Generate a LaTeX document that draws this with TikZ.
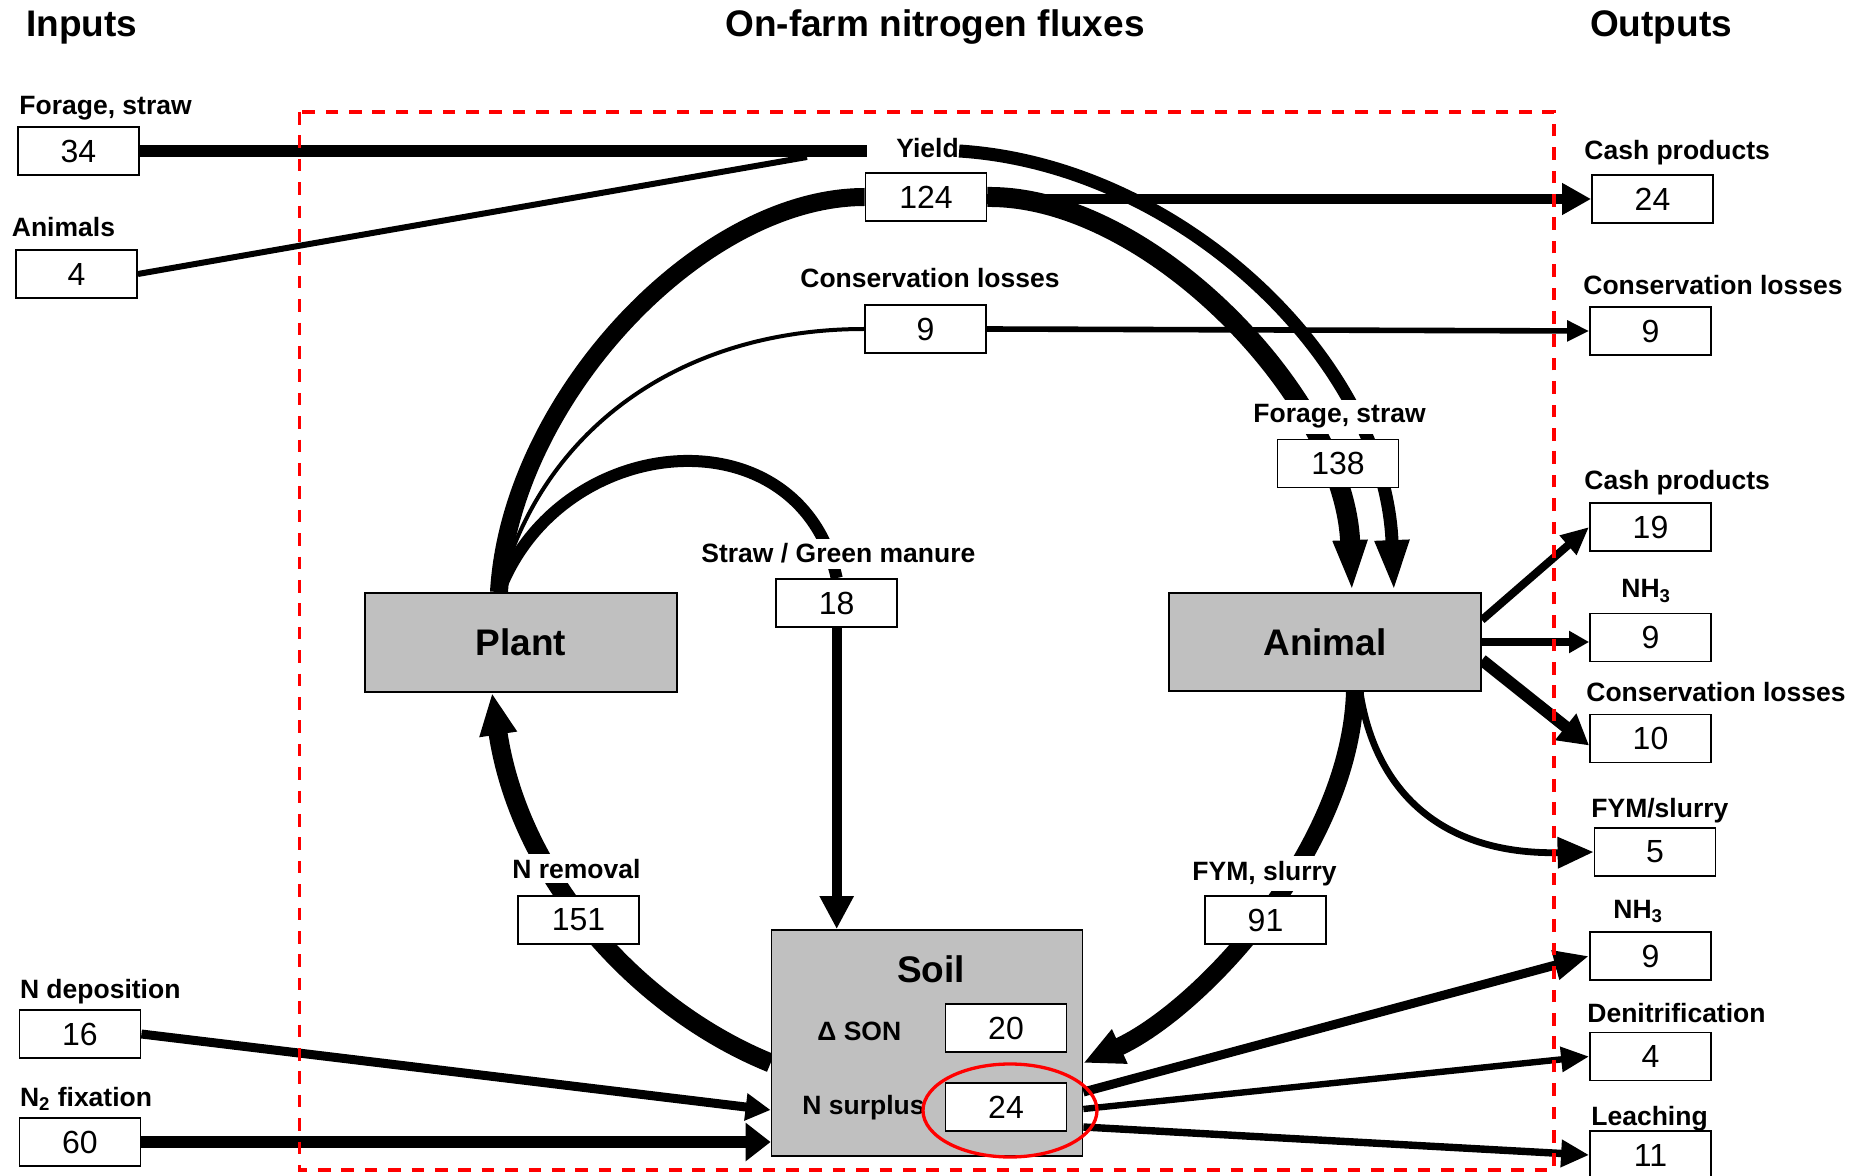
\documentclass[tikz,border=0pt]{standalone}
\usepackage{fontspec}
\setmainfont{Liberation Sans}
\usetikzlibrary{arrows.meta,backgrounds}
\definecolor{poolgray}{HTML}{C0C0C0}
\tikzset{
  numbox/.style={draw, line width=0.9pt, fill=white, minimum width=60.5pt,
    minimum height=24pt, inner sep=0pt, font=\fontsize{16}{18}\selectfont},
  pool/.style={draw, line width=0.9pt, fill=poolgray, inner sep=0pt,
    font=\fontsize{18.5}{20}\selectfont\bfseries},
  lbl/.style={inner sep=0pt, anchor=base west, font=\fontsize{13.25}{15}\selectfont\bfseries},
  cutlbl/.style={lbl, fill=white, inner ysep=2.5pt},
  ttl/.style={inner sep=0pt, anchor=base, font=\fontsize{18.5}{20}\selectfont\bfseries},
  arr/.style 2 args={-{Triangle[length=#1,width=#2]}},
}
\begin{document}
\begin{tikzpicture}[x=0.5pt, y=-0.5pt]
\useasboundingbox (0,0) rectangle (1849,1176);

% titles
\node[ttl, anchor=base west] (tin) at (26,37) {Inputs};
\node[ttl] (tfarm) at (935,37) {On-farm nitrogen fluxes};
\node[ttl] (tout) at (1661,37) {Outputs};

% pools
\node[pool, minimum width=156pt, minimum height=49.5pt] (plant) at (521,642.5) {Plant};
\node[pool, minimum width=156pt, minimum height=49pt] (animal) at (1325,642) {Animal};
\node[pool, minimum width=155.5pt, minimum height=113pt] (soil) at (927,1043) {};
\node[inner sep=0pt, anchor=base, font=\fontsize{18.5}{20}\selectfont\bfseries] (soiltxt) at (931,982) {Soil};
\node[lbl] (son) at (817,1040) {Δ SON};
\node[lbl] (surp) at (802,1114) {N surplus};
\node[numbox] (n20) at (1006,1028) {20};
\node[numbox] (n24) at (1006,1107) {24};

% inputs
\node[lbl] (lf34) at (19,115) {Forage, straw};
\node[numbox] (f34) at (78.5,151) {34};
\node[lbl] (lf4) at (11.5,237) {Animals};
\node[numbox] (f4) at (76.5,274) {4};
\node[lbl] (lf16) at (19.6,998) {N deposition};
\node[numbox] (f16) at (80,1034) {16};
\node[lbl] (lf60) at (19.6,1106) {N\textsubscript{2} fixation};
\node[numbox] (f60) at (80,1142) {60};

% on-farm fluxes
\node[lbl] (yield) at (896,158) {Yield};
\node[numbox] (n124) at (926,197) {124};
\node[lbl] (lcons) at (800,288) {Conservation losses};
\node[numbox] (n9c) at (925.5,329) {9};
\node[cutlbl] (lstraw) at (701,563) {Straw / Green manure};
\node[numbox] (n18) at (836.7,603) {18};
\node[cutlbl] (lforage) at (1253,423) {Forage, straw};
\node[numbox] (n138) at (1338,463.5) {138};
\node[cutlbl] (lrem) at (512,878) {N removal};
\node[numbox] (n151) at (578.5,920) {151};
\node[cutlbl] (lfym) at (1192,880) {FYM, slurry};
\node[numbox] (n91) at (1265.5,920) {91};

% outputs
\node[lbl] at (1584,160) {Cash products};
\node[numbox] (o24) at (1652.5,199) {24};
\node[lbl] at (1583,295) {Conservation losses};
\node[numbox] (o9c) at (1650.5,331) {9};
\node[lbl] at (1584,490) {Cash products};
\node[numbox] (o19) at (1650.5,527) {19};
\node[lbl] at (1621,598) {NH\textsubscript{3}};
\node[numbox] (o9a) at (1650.5,637.5) {9};
\node[lbl] at (1586,702) {Conservation losses};
\node[numbox] (o10) at (1650.5,738.5) {10};
\node[lbl] at (1591,817) {FYM/slurry};
\node[numbox] (o5) at (1655,852) {5};
\node[lbl] at (1613,918) {NH\textsubscript{3}};
\node[numbox] (o9b) at (1650.5,956) {9};
\node[lbl] at (1587,1022) {Denitrification};
\node[numbox] (o4) at (1650.5,1056.5) {4};
\node[lbl] at (1591,1125) {Leaching};
\node[numbox] (o11) at (1650.5,1155) {11};

\coordinate (ptop) at ([xshift=-11pt]plant.north);
\coordinate (yend) at (867,151);
\coordinate (feed) at (807,157);

\begin{pgfonlayer}{background}
% inputs
\draw[line width=6pt] (f34.east) -- (yend);
\draw[line width=3pt] (f4.east) -- (feed);
\draw[line width=4.5pt, arr={12.5pt}{13pt}] (f16.east) -- ([yshift=-33.5pt]soil.west);
\draw[line width=6pt, arr={12.5pt}{18.5pt}] (f60.east) -- (f60.east -| soil.west);

% plant -> yield, losses, straw
\draw[line width=9pt] (ptop) .. controls (510,400) and (700,197) .. (n124.west);
\draw[line width=2pt] (ptop) .. controls (540,430) and (680,329) .. (n9c.west);
\draw[line width=6pt] (ptop) .. controls (560,430) and (800,410) .. (n18.north);
\draw[line width=5pt, arr={16.5pt}{16pt}] (n18.south) -- (n18.south |- soil.north);

% yield -> animal
\draw[line width=10pt, arr={26pt}{15.5pt}] (n124.east) .. controls (1150,195) and (1345,400) .. ([xshift=13.5pt]animal.north);
\draw[line width=6.5pt, arr={26pt}{15.5pt}] (yield.east |- f34.east) .. controls (1180,165) and (1385,360) .. ([xshift=34.5pt]animal.north);

% yield, losses -> outputs
\draw[line width=4.7pt, arr={14.5pt}{15pt}] (n124.east |- o24.west) -- (o24.west);
\draw[line width=2.8pt, arr={11pt}{10pt}] (n9c.east) -- (o9c.west);

% animal -> outputs, soil
\draw[line width=4pt, arr={14pt}{12pt}] ([yshift=11pt]animal.east) -- (o19.west);
\draw[line width=4pt, arr={10pt}{10.5pt}] (animal.east) -- (animal.east -| o9a.west);
\draw[line width=6pt, arr={15pt}{16pt}] ([yshift=-9pt]animal.east) -- ([yshift=-3.5pt]o10.west);
\draw[line width=3.4pt, arr={18pt}{15pt}] ([xshift=17.5pt]animal.south) .. controls (1375,790) and (1440,855) .. (o5.west);
\draw[line width=9pt, arr={20pt}{17.5pt}] ([xshift=15pt]animal.south) .. controls (1350,850) and (1200,1010) .. ([yshift=-10pt]soil.east);

% soil -> plant
\draw[line width=9.5pt, arr={21pt}{17.5pt}] ([yshift=-10pt]soil.west) .. controls (640,1010) and (520,880) .. ([xshift=-14.5pt]plant.south);

% soil -> outputs
\draw[line width=4.5pt, arr={17.5pt}{14pt}] ([yshift=-24.5pt]soil.east) -- (o9b.west);
\draw[line width=3.2pt, arr={14pt}{12pt}] ([yshift=-33pt]soil.east) -- (o4.west);
\draw[line width=3.7pt, arr={14pt}{13pt}] ([yshift=-42pt]soil.east) -- (o11.west);
\end{pgfonlayer}

% farm boundary and surplus mark
\draw[red, line width=1.65pt, dash pattern=on 6.3pt off 5.4pt] (299.5,112) rectangle (1554,1170);
\draw[red, line width=1.65pt] (1010,1110.5) ellipse [x radius=43.5pt, y radius=23.25pt];
\end{tikzpicture}
\end{document}
